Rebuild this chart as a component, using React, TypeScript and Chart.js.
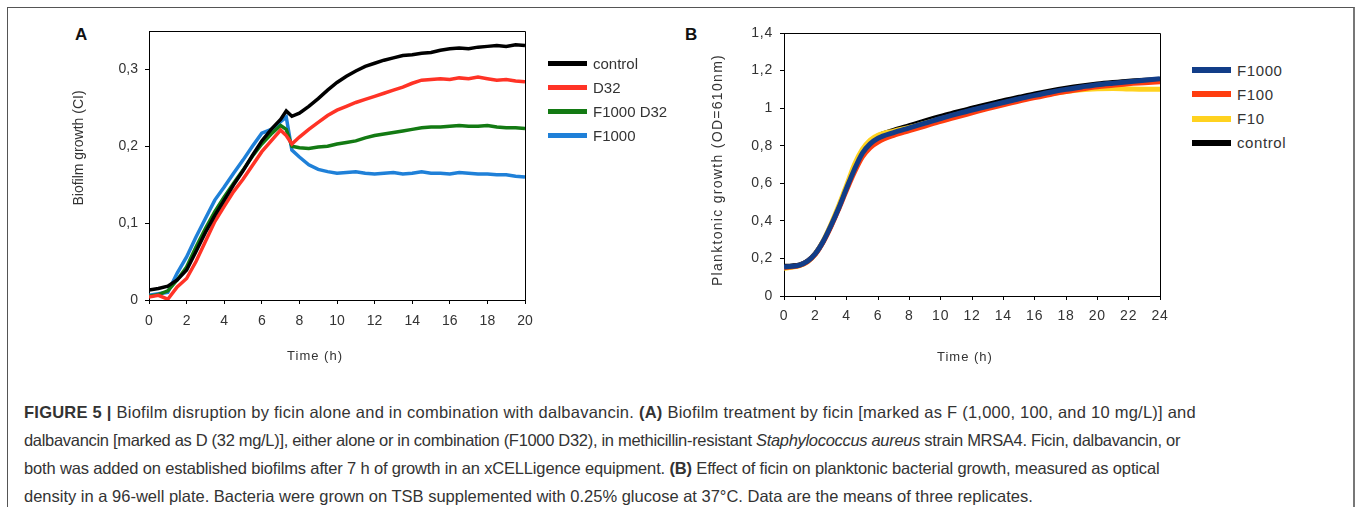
import React, { useEffect, useRef } from "react";
import { Chart, registerables } from "chart.js";

Chart.register(...registerables);

// ---------- Panel A data (Biofilm growth, CI) ----------
const timeA = [0, 0.5, 1, 1.5, 2, 2.5, 3, 3.5, 4, 4.5, 5, 5.5, 6, 6.5, 7, 7.3, 7.6, 8, 8.5, 9, 9.5, 10, 10.5, 11, 11.5, 12, 12.5, 13, 13.5, 14, 14.5, 15, 15.5, 16, 16.5, 17, 17.5, 18, 18.5, 19, 19.5, 20];
const controlA = [0.013, 0.015, 0.018, 0.026, 0.039, 0.063, 0.088, 0.11, 0.13, 0.15, 0.168, 0.188, 0.207, 0.222, 0.235, 0.246, 0.239, 0.243, 0.252, 0.262, 0.273, 0.283, 0.291, 0.298, 0.304, 0.308, 0.312, 0.315, 0.318, 0.319, 0.321, 0.322, 0.325, 0.327, 0.328, 0.327, 0.329, 0.33, 0.331, 0.33, 0.332, 0.331];
const d32A = [0.004, 0.006, 0.001, 0.017, 0.028, 0.05, 0.076, 0.102, 0.122, 0.141, 0.157, 0.175, 0.193, 0.207, 0.221, 0.214, 0.203, 0.212, 0.222, 0.231, 0.24, 0.247, 0.252, 0.257, 0.261, 0.265, 0.269, 0.273, 0.277, 0.282, 0.286, 0.287, 0.288, 0.287, 0.289, 0.288, 0.29, 0.288, 0.286, 0.287, 0.285, 0.284];
const f1000d32A = [0.005, 0.007, 0.012, 0.026, 0.043, 0.069, 0.093, 0.115, 0.134, 0.152, 0.169, 0.187, 0.203, 0.216, 0.227, 0.222, 0.2, 0.198, 0.197, 0.199, 0.2, 0.203, 0.205, 0.207, 0.211, 0.214, 0.216, 0.218, 0.22, 0.222, 0.224, 0.225, 0.225, 0.226, 0.227, 0.226, 0.226, 0.227, 0.225, 0.224, 0.224, 0.223];
const f1000A = [0.006, 0.008, 0.01, 0.035, 0.056, 0.082, 0.106, 0.13, 0.147, 0.165, 0.182, 0.2, 0.217, 0.222, 0.232, 0.238, 0.195, 0.186, 0.176, 0.17, 0.167, 0.165, 0.166, 0.167, 0.165, 0.164, 0.165, 0.166, 0.164, 0.165, 0.167, 0.165, 0.165, 0.164, 0.166, 0.165, 0.164, 0.164, 0.163, 0.163, 0.161, 0.16];
const labelsA = ["control", "D32", "F1000 D32", "F1000"];
const colorsA = ["#000000", "#ff3326", "#137a13", "#1f80d8"];

// ---------- Panel B data (Planktonic growth, OD 610 nm) ----------
const timeB = [0, 0.5, 1, 1.5, 2, 2.5, 3, 3.5, 4, 4.5, 5, 5.5, 6, 7, 8, 9, 10, 11, 12, 13, 14, 15, 16, 17, 18, 19, 20, 21, 22, 23, 24];
const f1000B = [0.155, 0.158, 0.165, 0.185, 0.225, 0.29, 0.375, 0.47, 0.575, 0.675, 0.76, 0.81, 0.84, 0.87, 0.895, 0.92, 0.945, 0.968, 0.99, 1.01, 1.03, 1.05, 1.068, 1.085, 1.1, 1.113, 1.125, 1.133, 1.14, 1.148, 1.157];
const f100B = [0.152, 0.156, 0.163, 0.183, 0.222, 0.287, 0.37, 0.465, 0.565, 0.66, 0.74, 0.79, 0.82, 0.855, 0.88, 0.905, 0.93, 0.953, 0.975, 0.997, 1.018, 1.038, 1.056, 1.073, 1.088, 1.102, 1.114, 1.122, 1.13, 1.135, 1.14];
const f10B = [0.148, 0.153, 0.162, 0.182, 0.224, 0.292, 0.382, 0.482, 0.59, 0.7, 0.78, 0.83, 0.855, 0.878, 0.897, 0.92, 0.943, 0.965, 0.986, 1.006, 1.025, 1.044, 1.061, 1.076, 1.088, 1.098, 1.103, 1.105, 1.102, 1.1, 1.1];
const controlB = [0.158, 0.16, 0.166, 0.186, 0.226, 0.29, 0.375, 0.472, 0.58, 0.682, 0.77, 0.82, 0.852, 0.882, 0.907, 0.932, 0.956, 0.978, 1.0, 1.02, 1.04, 1.058, 1.076, 1.092, 1.106, 1.118, 1.128, 1.136, 1.143, 1.148, 1.152];
const labelsB = ["F1000", "F100", "F10", "control"];
const colorsB = ["#123d88", "#ff3d0f", "#ffd21f", "#000000"];

const FONT = "'Liberation Sans', Arial, sans-serif";

const framePlugin = {
  id: "frame",
  afterDatasetsDraw(chart: any) {
    const { ctx, chartArea } = chart;
    const { left, top, right, bottom } = chartArea;
    ctx.save();
    ctx.strokeStyle = "#000";
    ctx.lineWidth = 1;
    ctx.beginPath();
    ctx.moveTo(left, top + 0.5);
    ctx.lineTo(right + 0.5, top + 0.5);
    ctx.lineTo(right + 0.5, bottom);
    ctx.stroke();
    ctx.restore();
  },
};

// Axis titles drawn on the chart canvas (allows letter-spacing and exact placement)
const titlePlugin = {
  id: "axisTitles",
  afterDraw(chart: any, _args: any, o: any) {
    const { ctx, scales } = chart;
    ctx.save();
    ctx.fillStyle = o.color;
    ctx.textAlign = "center";
    ctx.textBaseline = "middle";
    ctx.font = `${o.xSize}px ${FONT}`;
    (ctx as any).letterSpacing = o.xSpacing;
    ctx.fillText(o.xText, scales.x.getPixelForValue(o.xAt), o.xY);
    ctx.font = `${o.ySize}px ${FONT}`;
    (ctx as any).letterSpacing = o.ySpacing;
    ctx.translate(o.yX, o.yCenter);
    ctx.rotate(-Math.PI / 2);
    ctx.fillText(o.yText, 0, 0);
    ctx.restore();
  },
};

const makeSpacingPlugin = (sp: string) => ({
  id: "spacing",
  beforeDraw(chart: any) {
    (chart.ctx as any).letterSpacing = sp;
  },
});

const commaFmt = (v: any) => {
  const n = Math.round(Number(v) * 100) / 100;
  return String(n).replace(".", ",");
};

function buildSeries(times: number[], vals: number[]) {
  return times.map((t, i) => ({ x: t, y: vals[i] }));
}

function axisCommon(extra: any) {
  return {
    type: "linear",
    border: { display: true, color: "#000", width: 1 },
    grid: { display: true, drawOnChartArea: false, drawTicks: true, tickLength: 4, color: "#000" },
    ...extra,
  };
}

const fitX = (h: number) => (s: any) => {
  s.height = h;
  s.paddingLeft = 0;
  s.paddingRight = 0;
};
const fitY = (w: number) => (s: any) => {
  s.width = w;
  s.paddingTop = 0;
  s.paddingBottom = 0;
};

function ChartA() {
  const ref = useRef<HTMLCanvasElement>(null);
  useEffect(() => {
    const series = [controlA, d32A, f1000d32A, f1000A];
    const chart = new Chart(ref.current as HTMLCanvasElement, {
      type: "line",
      data: {
        datasets: series.map((s, i) => ({
          label: labelsA[i],
          data: buildSeries(timeA, s),
          borderColor: colorsA[i],
          backgroundColor: colorsA[i],
          borderWidth: 3.5,
          pointRadius: 0,
          tension: 0,
          fill: false,
        })),
      },
      options: {
        animation: false,
        responsive: false,
        maintainAspectRatio: false,
        layout: { padding: { left: 0, right: 15, top: 11, bottom: 0 } },
        plugins: {
          legend: { display: false },
          tooltip: { enabled: false },
          axisTitles: {
            color: "#333",
            xText: "Time (h)", xAt: 8.83, xY: 336, xSize: 13, xSpacing: "1px",
            yText: "Biofilm growth (CI)", yX: 19, yCenter: 128, ySize: 14, ySpacing: "0px",
          },
        },
        scales: {
          x: axisCommon({
            min: 0,
            max: 20,
            afterFit: fitX(70),
            ticks: { stepSize: 2, autoSkip: false, maxRotation: 0, padding: 9, color: "#333", font: { family: FONT, size: 14 } },
          }),
          y: axisCommon({
            min: 0,
            max: 0.35,
            afterFit: fitY(89),
            ticks: { stepSize: 0.1, includeBounds: false, padding: 7, color: "#333", font: { family: FONT, size: 14 }, callback: commaFmt },
          }),
        },
      } as any,
      plugins: [framePlugin, titlePlugin],
    });
    return () => chart.destroy();
  }, []);
  return (
    <canvas
      ref={ref}
      width={480}
      height={350}
      style={{ position: "absolute", left: 60, top: 20, width: 480, height: 350 }}
    />
  );
}

function ChartB() {
  const ref = useRef<HTMLCanvasElement>(null);
  useEffect(() => {
    const series = [f1000B, f100B, f10B, controlB];
    const chart = new Chart(ref.current as HTMLCanvasElement, {
      type: "line",
      data: {
        datasets: series.map((s, i) => ({
          label: labelsB[i],
          data: buildSeries(timeB, s),
          borderColor: colorsB[i],
          backgroundColor: colorsB[i],
          borderWidth: 5,
          pointRadius: 0,
          cubicInterpolationMode: "monotone",
          fill: false,
        })),
      },
      options: {
        animation: false,
        responsive: false,
        maintainAspectRatio: false,
        layout: { padding: { left: 0, right: 20, top: 13, bottom: 0 } },
        plugins: {
          legend: { display: false },
          tooltip: { enabled: false },
          axisTitles: {
            color: "#333",
            xText: "Time (h)", xAt: 11.55, xY: 337, xSize: 13, xSpacing: "1px",
            yText: "Planktonic growth (OD=610nm)", yX: 38, yCenter: 150, ySize: 14, ySpacing: "1.3px",
          },
        },
        scales: {
          x: axisCommon({
            min: 0,
            max: 24,
            afterFit: fitX(74),
            ticks: { stepSize: 2, autoSkip: false, maxRotation: 0, padding: 8, color: "#333", font: { family: FONT, size: 14 } },
          }),
          y: axisCommon({
            min: 0,
            max: 1.4,
            afterFit: fitY(104),
            ticks: { stepSize: 0.2, padding: 7, color: "#333", font: { family: FONT, size: 14 }, callback: commaFmt },
          }),
        },
      } as any,
      plugins: [makeSpacingPlugin("0.8px"), framePlugin, titlePlugin],
    });
    return () => chart.destroy();
  }, []);
  return (
    <canvas
      ref={ref}
      width={500}
      height={350}
      style={{ position: "absolute", left: 680, top: 20, width: 500, height: 350 }}
    />
  );
}

function Legend({ left, top, spacing, labels, colors, thick, sp }: any) {
  return (
    <div style={{ position: "absolute", left, top }}>
      {labels.map((l: string, i: number) => (
        <div key={l} style={{ position: "absolute", left: 0, top: i * spacing, height: 20, width: 200, display: "flex", alignItems: "center" }}>
          <div style={{ width: 39, height: thick, background: colors[i] }} />
          <span style={{ marginLeft: 6, fontFamily: FONT, fontSize: 15, color: "#333", letterSpacing: sp, whiteSpace: "nowrap" }}>{l}</span>
        </div>
      ))}
    </div>
  );
}

export default function App() {
  useEffect(() => {
    document.documentElement.style.overflow = "hidden";
    document.body.style.overflow = "hidden";
  }, []);
  const cap = (sp: string): React.CSSProperties => ({ whiteSpace: "nowrap", height: 28, lineHeight: "28px", letterSpacing: sp });
  return (
    <div style={{ position: "absolute", left: 0, top: 0, width: 1357, height: 507, overflow: "hidden", background: "#fff" }}>
      <div style={{ position: "absolute", left: 7, top: 7, width: 1345, height: 520, border: "1px solid #555", borderRightWidth: 2, borderRightColor: "#777" }} />
      <div style={{ position: "absolute", left: 75, top: 25, fontFamily: FONT, fontWeight: "bold", fontSize: 17, color: "#111" }}>A</div>
      <div style={{ position: "absolute", left: 685, top: 25, fontFamily: FONT, fontWeight: "bold", fontSize: 17, color: "#111" }}>B</div>
      <ChartA />
      <ChartB />
      <Legend left={548} top={53} spacing={24} labels={labelsA} colors={colorsA} thick={5} sp="0px" />
      <Legend left={1192} top={60} spacing={24.3} labels={labelsB} colors={colorsB} thick={6} sp="0.6px" />
      <div style={{ position: "absolute", left: 24, top: 398, fontFamily: FONT, fontSize: 16.5, color: "#333" }}>
        <div style={cap("0.24px")}><b>FIGURE 5 |</b> Biofilm disruption by ficin alone and in combination with dalbavancin. <b>(A)</b> Biofilm treatment by ficin [marked as F (1,000, 100, and 10 mg/L)] and</div>
        <div style={cap("-0.31px")}>dalbavancin [marked as D (32 mg/L)], either alone or in combination (F1000 D32), in methicillin-resistant <i>Staphylococcus aureus</i> strain MRSA4. Ficin, dalbavancin, or</div>
        <div style={cap("-0.16px")}>both was added on established biofilms after 7 h of growth in an xCELLigence equipment. <b>(B)</b> Effect of ficin on planktonic bacterial growth, measured as optical</div>
        <div style={cap("0px")}>density in a 96-well plate. Bacteria were grown on TSB supplemented with 0.25% glucose at 37°C. Data are the means of three replicates.</div>
      </div>
    </div>
  );
}
